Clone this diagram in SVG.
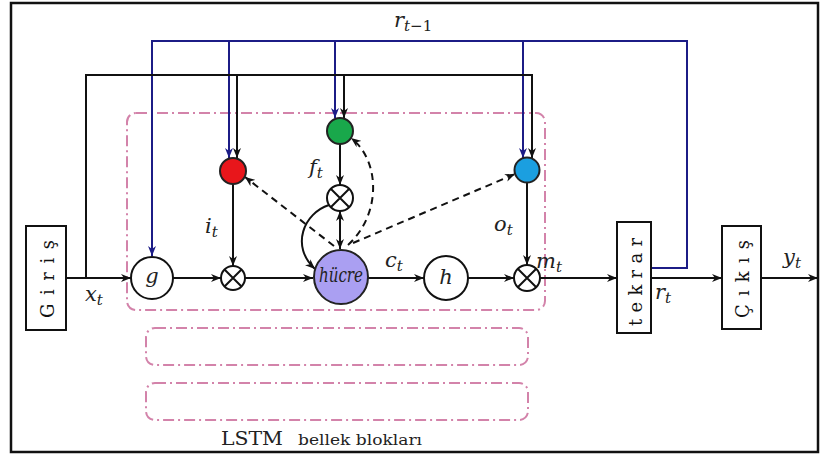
<svg xmlns="http://www.w3.org/2000/svg" width="820" height="458" viewBox="0 0 820 458">
<style>
.ln{fill:none;stroke:#111;stroke-width:2}
.bl{fill:none;stroke:#1c1c86;stroke-width:2}
.ds{fill:none;stroke:#111;stroke-width:2;stroke-dasharray:7 5}
.pk{fill:none;stroke:#d383aa;stroke-width:2;stroke-dasharray:11 4 2 4}
.nd{fill:#fff;stroke:#111;stroke-width:2}
.mx{stroke:#111;stroke-width:2}
.m{font-family:'DejaVu Serif',serif;font-style:italic;font-size:21px;fill:#222}
.s{font-size:15px}
.bx{font-family:'DejaVu Serif',serif;font-size:18px;fill:#111}
.cap{font-family:'DejaVu Serif',serif;fill:#222}
</style>
<defs>
<marker id="a" viewBox="0 0 10 8" markerWidth="10" markerHeight="8" refX="10" refY="4" orient="auto" markerUnits="userSpaceOnUse"><path d="M0,0 L10,4 L0,8 L3,4 Z" fill="#111" stroke="none"/></marker>
<marker id="as" viewBox="0 0 10 8" markerWidth="10" markerHeight="8" refX="10" refY="4" orient="auto-start-reverse" markerUnits="userSpaceOnUse"><path d="M0,0 L10,4 L0,8 L3,4 Z" fill="#111" stroke="none"/></marker>
<marker id="b" viewBox="0 0 10 8" markerWidth="10" markerHeight="8" refX="10" refY="4" orient="auto" markerUnits="userSpaceOnUse"><path d="M0,0 L10,4 L0,8 L3,4 Z" fill="#1c1c86" stroke="none"/></marker>
</defs>
<rect x="11" y="3" width="807" height="449" fill="#fff" stroke="#111" stroke-width="2.5"/>

<g id="blocks">
<rect class="pk" x="127" y="113" width="418" height="197" rx="9"/>
<rect class="pk" x="146" y="328" width="382" height="37" rx="9"/>
<rect class="pk" x="146" y="383" width="382" height="37" rx="9"/>
</g>

<g id="connectors">
<path class="bl" d="M651,268 H687 V41 H152 V256" marker-end="url(#b)"/>
<path class="bl" d="M229,41 V158" marker-end="url(#b)"/>
<path class="bl" d="M335,41 V118" marker-end="url(#b)"/>
<path class="bl" d="M523,41 V158" marker-end="url(#b)"/>
<path class="ln" d="M86,278 V75 H532 V158" marker-end="url(#a)"/>
<path class="ln" d="M237,75 V158" marker-end="url(#a)"/>
<path class="ln" d="M344,75 V118" marker-end="url(#a)"/>
<path class="ln" d="M66,278 H131" marker-end="url(#a)"/>
<path class="ln" d="M173,278 H221" marker-end="url(#a)"/>
<path class="ln" d="M245,278 H313" marker-end="url(#a)"/>
<path class="ln" d="M368,278 H424" marker-end="url(#a)"/>
<path class="ln" d="M468,278 H514" marker-end="url(#a)"/>
<path class="ln" d="M540,278 H617" marker-end="url(#a)"/>
<path class="ln" d="M651,278 H722" marker-end="url(#a)"/>
<path class="ln" d="M761,278 H818" marker-end="url(#a)"/>
<path class="ln" d="M233,184 V266" marker-end="url(#a)"/>
<path class="ln" d="M527,183 V265" marker-end="url(#a)"/>
<path class="ln" d="M340,144 V185" marker-end="url(#a)"/>
<path class="ln" d="M340,249 V211" marker-start="url(#as)" marker-end="url(#as)"/>
<path class="ln" d="M329,205 C304,213 290,246 315,269" marker-end="url(#a)"/>
<path class="ds" d="M334,246 L245,177" marker-end="url(#a)"/>
<path class="ds" d="M353,243 L515,174" marker-end="url(#a)"/>
<path class="ds" d="M348,245 C382,214 380,160 351,138" marker-end="url(#a)"/>
</g>

<g id="giris">
<rect class="nd" x="26" y="226" width="40" height="104"/>
<text class="bx" transform="translate(47,279) rotate(-90)" text-anchor="middle" dominant-baseline="central" textLength="78" lengthAdjust="spacing">Giriş</text>
</g>
<g id="g-node">
<circle class="nd" cx="152" cy="278" r="21"/>
<text class="m" x="152" y="283" text-anchor="middle" font-size="17">g</text>
</g>
<g id="mul-in">
<circle class="nd" cx="233" cy="278" r="12"/>
<path class="mx" d="M224.5,269.5 L241.5,286.5 M241.5,269.5 L224.5,286.5"/>
</g>
<g id="gate-i">
<circle cx="233" cy="171" r="13" fill="#e8161b" stroke="#222" stroke-width="2"/>
</g>
<g id="gate-f">
<circle cx="340" cy="131" r="13" fill="#19a84b" stroke="#222" stroke-width="2"/>
</g>
<g id="mul-f">
<circle class="nd" cx="340" cy="198" r="13"/>
<path class="mx" d="M331,189 L349,207 M349,189 L331,207"/>
</g>
<g id="hucre">
<circle cx="341" cy="277" r="27" fill="#aa9ff2" stroke="#222" stroke-width="2"/>
<text class="m" x="319" y="282" font-size="14" textLength="44" lengthAdjust="spacingAndGlyphs">hücre</text>
</g>
<g id="h-node">
<circle class="nd" cx="446" cy="278" r="22"/>
<text class="m" x="446" y="284" text-anchor="middle" font-size="17">h</text>
</g>
<g id="gate-o">
<circle cx="527" cy="170" r="12.5" fill="#1b9fe0" stroke="#222" stroke-width="2"/>
</g>
<g id="mul-out">
<circle class="nd" cx="527" cy="278" r="13"/>
<path class="mx" d="M518,269 L536,287 M536,269 L518,287"/>
</g>
<g id="tekrar">
<rect class="nd" x="617" y="222" width="34" height="111"/>
<text class="bx" transform="translate(635,282) rotate(-90)" text-anchor="middle" dominant-baseline="central" textLength="88" lengthAdjust="spacing">tekrar</text>
</g>
<g id="cikis">
<rect class="nd" x="722" y="226" width="39" height="103"/>
<text class="bx" transform="translate(742,279) rotate(-90)" text-anchor="middle" dominant-baseline="central" textLength="78" lengthAdjust="spacing">Çıkış</text>
</g>

<g id="labels">
<text class="m" x="394" y="27">r<tspan class="s" dy="4">t<tspan font-style="normal">−1</tspan></tspan></text>
<text class="m" x="85" y="301">x<tspan class="s" dy="4">t</tspan></text>
<text class="m" x="205" y="233">i<tspan class="s" dy="4">t</tspan></text>
<text class="m" x="309" y="174">f<tspan class="s" dy="4">t</tspan></text>
<text class="m" x="494" y="231">o<tspan class="s" dy="4">t</tspan></text>
<text class="m" x="385" y="267">c<tspan class="s" dy="4">t</tspan></text>
<text class="m" x="536" y="268">m<tspan class="s" dy="4">t</tspan></text>
<text class="m" x="655" y="299">r<tspan class="s" dy="4">t</tspan></text>
<text class="m" x="783" y="264">y<tspan class="s" dy="4">t</tspan></text>
<text class="cap" x="221" y="445" font-size="18" textLength="62" lengthAdjust="spacingAndGlyphs">LSTM</text>
<text class="cap" x="298" y="445" font-size="15" textLength="124" lengthAdjust="spacingAndGlyphs">bellek blokları</text>
</g>
</svg>
